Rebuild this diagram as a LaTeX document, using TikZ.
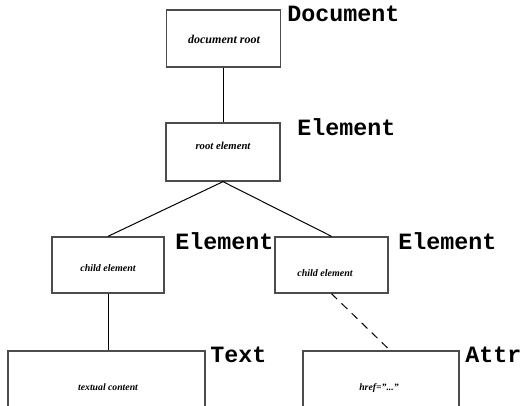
\documentclass[tikz,border=0pt]{standalone}
\usepackage{fontspec}
\setmainfont{Liberation Serif}
\newfontfamily\typefont{Liberation Mono}
\tikzset{
	box/.style={draw=black!70, line width=1pt, inner sep=0pt},
	boxtext/.style={font=\bfseries\itshape\fontsize{7.5}{9}\selectfont, anchor=base, inner sep=0pt},
	typename/.style={font=\typefont\bfseries\fontsize{17.5}{20}\selectfont, anchor=base west, inner sep=0pt},
	conn/.style={line width=0.75pt}
}
\begin{document}
\begin{tikzpicture}[x=0.75pt, y=-0.75pt]
	\useasboundingbox (0, 0) rectangle (532, 406);
	\clip (0, 0) rectangle (532, 406);
	
	% Document
	\node[box, minimum width=85.5pt, minimum height=42.75pt] (doc) at (223.5, 38.5) {};
	\node[boxtext, font=\bfseries\itshape\fontsize{9}{11}\selectfont] (doctxt) at (224, 44) {document root};
	\node[typename] (doclbl) at (287, 22) {Document};
	
	% Root element
	\node[box, minimum width=85.5pt, minimum height=43.5pt] (root) at (223, 152) {};
	\node[boxtext, font=\bfseries\itshape\fontsize{8}{10}\selectfont] (roottxt) at (223, 150) {root element};
	\node[typename] (rootlbl) at (297, 136) {Element};
	
	% Child elements
	\node[box, minimum width=84pt, minimum height=42pt] (left) at (108, 265) {};
	\node[boxtext] (lefttxt) at (108, 271) {child element};
	\node[typename] (leftlbl) at (175, 249) {Element};
	
	\node[box, minimum width=84.75pt, minimum height=42pt] (right) at (331.5, 265) {};
	\node[boxtext] (righttxt) at (325, 276) {child element};
	\node[typename] (rightlbl) at (398, 249) {Element};
	
	% Text and attribute
	\node[box, minimum width=147.75pt, minimum height=60pt] (text) at (106.5, 391) {};
	\node[boxtext, font=\bfseries\itshape\fontsize{7.3}{9}\selectfont] (texttxt) at (108, 390) {textual content};
	\node[typename] (textlbl) at (210, 362) {Text};
	
	\node[box, minimum width=117pt, minimum height=60pt] (attr) at (381, 391) {};
	\node[boxtext, font=\bfseries\itshape\fontsize{7.3}{9}\selectfont] (attrtxt) at (379, 390) {href=\symbol{34}...\symbol{34}};
	\node[typename] (attrlbl) at (465, 362) {Attr};
	
	% Connectors
	\draw[conn] (doc.south) -- (doc.south |- root.north);
	\draw[conn] (root.south) -- (left.north);
	\draw[conn] (root.south) -- (right.north);
	\draw[conn] (left.south) -- (left.south |- text.north);
	\coordinate (attrtop) at ([xshift=6.75pt]attr.north);
	\draw[conn, dash pattern=on 6pt off 4.5pt] (right.south) -- (attrtop);
\end{tikzpicture}
\end{document}
